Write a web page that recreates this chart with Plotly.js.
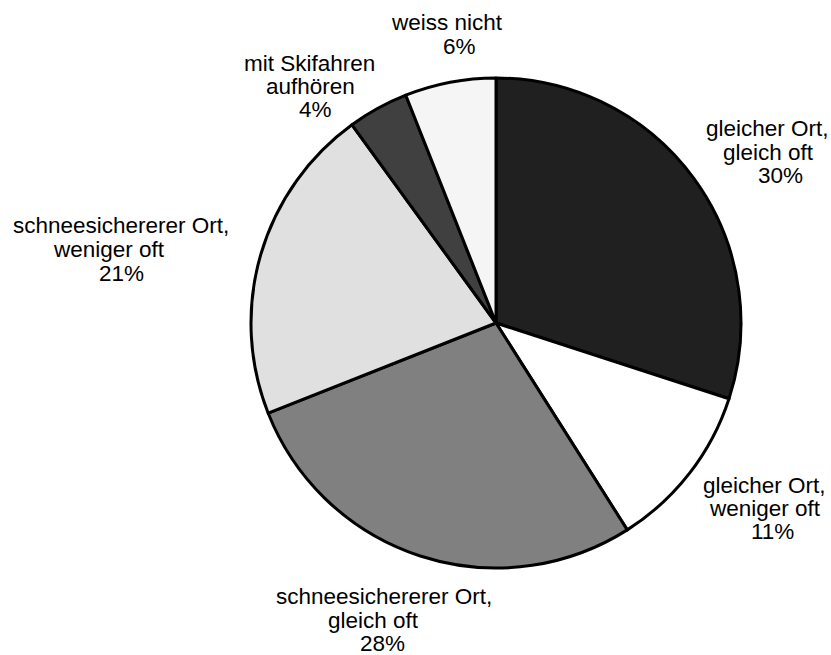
<!DOCTYPE html>
<html>
<head>
<meta charset="utf-8">
<script src="https://cdn.plot.ly/plotly-3.0.1.min.js"></script>
<style>
html,body{margin:0;padding:0;background:#fff;}
#chart{width:831px;height:655px;}
</style>
</head>
<body>
<div id="chart"></div>
<script>
// ---- data ----
const categories = [
  "gleicher Ort,|gleich oft",
  "gleicher Ort,|weniger oft",
  "schneesichererer Ort,|gleich oft",
  "schneesichererer Ort,|weniger oft",
  "mit Skifahren|aufhören",
  "weiss nicht"
];
const values = [30, 11, 28, 21, 4, 6];
const sliceColors = ["#202020", "#ffffff", "#808080", "#e0e0e0", "#404040", "#f5f5f5"];

// ---- label layout (pixel positions of each text line: [centerX, baselineY]) ----
const labelLines = [
  [[767, 136], [768, 159.5], [780, 183]],
  [[764.5, 493], [764.5, 516], [772, 539]],
  [[383.5, 604], [373, 627.5], [382, 651]],
  [[121, 233], [109, 257], [122, 280.5]],
  [[309, 71], [310, 94], [315, 117]],
  [[447, 30], [459, 54]]
];

const W = 831, H = 655;
const FS = 22.5;
const cx = 496, cy = 323, r = 245;

const annotations = [];
categories.forEach((cat, i) => {
  const lines = cat.split("|").concat([values[i] + "%"]);
  lines.forEach((txt, j) => {
    const pos = labelLines[i][j];
    annotations.push({
      text: txt,
      xref: "paper", yref: "paper",
      x: pos[0] / W,
      y: 1 - (pos[1] - 0.315 * FS) / H,
      xanchor: "center", yanchor: "middle",
      showarrow: false,
      font: {family: "Liberation Sans, Arial, sans-serif", size: FS, color: "#000"}
    });
  });
});

const trace = {
  type: "pie",
  values: values,
  labels: categories.map(c => c.replace("|", " ")),
  sort: false,
  direction: "clockwise",
  rotation: 0,
  textinfo: "none",
  hoverinfo: "none",
  showlegend: false,
  marker: {colors: sliceColors, line: {color: "#000", width: 3}},
  domain: {x: [(cx - r) / W, (cx + r) / W], y: [1 - (cy + r) / H, 1 - (cy - r) / H]}
};

Plotly.newPlot("chart", [trace], {
  width: W, height: H,
  margin: {l: 0, r: 0, t: 0, b: 0},
  paper_bgcolor: "#fff",
  showlegend: false,
  annotations: annotations
}, {displayModeBar: false, staticPlot: true});
</script>
</body>
</html>
